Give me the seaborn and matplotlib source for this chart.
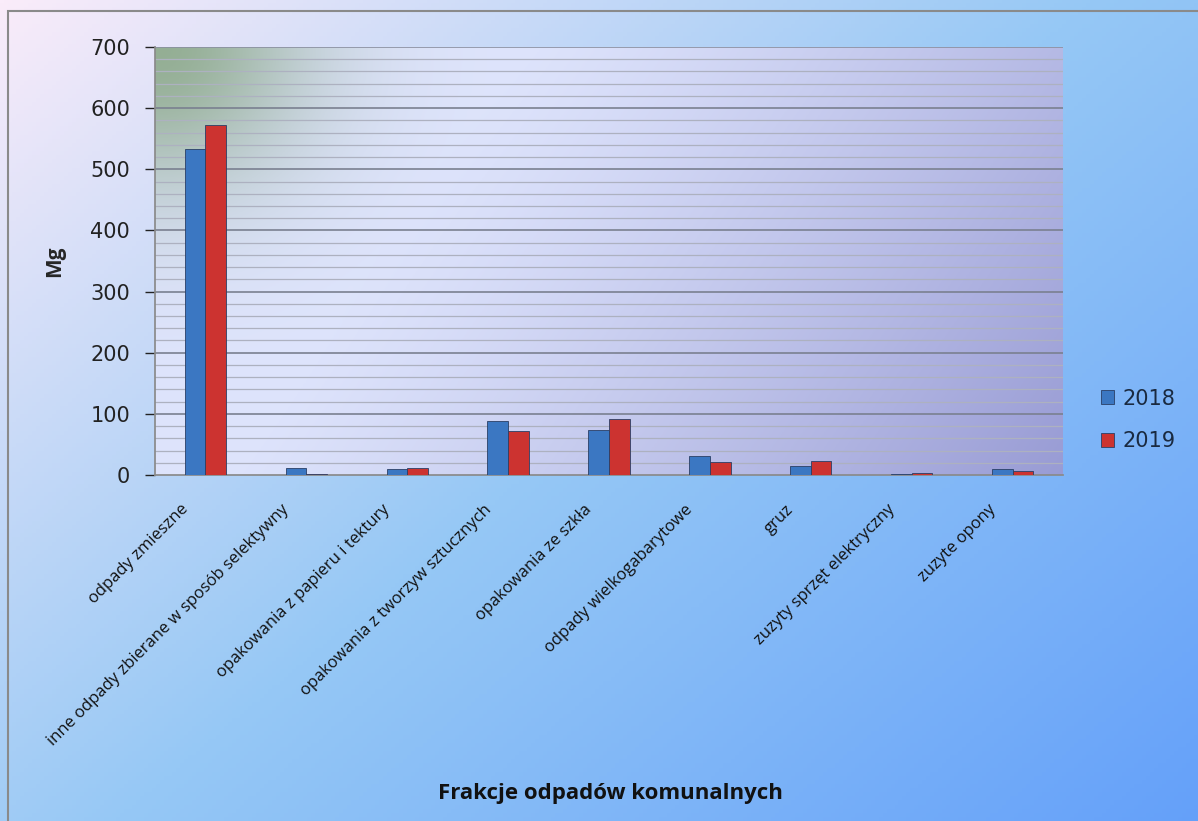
import numpy as np
import pandas as pd
import matplotlib
matplotlib.use('Agg')
import matplotlib.pyplot as plt
import matplotlib.transforms as mtransforms
import seaborn as sns
from matplotlib.patches import Rectangle

# dane (Mg)
kategorie = ['odpady zmieszne',
             'inne odpady zbierane w sposób selektywny',
             'opakowania z papieru i tektury',
             'opakowania z tworzyw sztucznych',
             'opakowania ze szkła',
             'odpady wielkogabarytowe',
             'gruz',
             'zuzyty sprzęt elektryczny',
             'zuzyte opony']
lata = ['2018', '2019']
wartosci_2018 = [533, 11, 10, 89, 73, 31, 15, 1, 10]
wartosci_2019 = [572, 1, 11, 72, 91, 22, 23, 4, 6]
y_ticks = [0, 100, 200, 300, 400, 500, 600, 700]

df = pd.DataFrame({
    'kategoria': kategorie * 2,
    'rok': [lata[0]] * len(kategorie) + [lata[1]] * len(kategorie),
    'Mg': wartosci_2018 + wartosci_2019,
})

sns.set_theme(style='white')
plt.rcParams['font.family'] = ['Open Sans', 'DejaVu Sans']

fig = plt.figure(figsize=(11.98, 8.21), dpi=100)

# tło całego wykresu - gradient po przekątnej
bg = fig.add_axes([0, 0, 1, 1], zorder=-10)
h, w = 200, 300
yy, xx = np.mgrid[0:h, 0:w]
t = (xx / w * 0.55 + yy / h * 0.45)
c0 = np.array([250, 236, 250]) / 255
c1 = np.array([150, 200, 245]) / 255
c2 = np.array([100, 160, 250]) / 255
t3 = t[..., None]
img = np.where(t3 < 0.5, c0 + (c1 - c0) * (t3 / 0.5), c1 + (c2 - c1) * ((t3 - 0.5) / 0.5))
bg.imshow(img, extent=[0, 1, 0, 1], aspect='auto', origin='upper')
bg.add_patch(Rectangle((0.007, -0.01), 1.0, 0.996, fill=False, edgecolor='#8a8a8a', lw=1.5,
                       transform=bg.transAxes))
bg.set_axis_off()

ax = fig.add_axes([155 / 1198, 1 - 475 / 821, 908 / 1198, 428 / 821])

# tło obszaru wykresu
ph, pw = 150, 300
py, px = np.mgrid[0:ph, 0:pw]
u = (px / pw * 0.75 + py / ph * 0.25)[..., None]
a0 = np.array([222, 228, 252]) / 255
a1 = np.array([152, 155, 212]) / 255
pimg = a0 + (a1 - a0) * np.clip((u - 0.3) / 0.7, 0, 1) ** 1.2
d = np.sqrt((px / pw / 0.2) ** 2 + (py / ph / 0.4) ** 2)[..., None]
g = np.exp(-d ** 2 * 1.4) * 0.85
green = np.array([135, 165, 130]) / 255
pimg = pimg * (1 - g) + green * g
ax.imshow(pimg, extent=[-0.5, 8.5, 0, 700], aspect='auto', origin='upper', zorder=0)

# linie siatki
for v in range(20, 700, 20):
    if v % 100 == 0:
        ax.axhline(v, color='#7a8090', lw=1.2, zorder=1)
    else:
        ax.axhline(v, color='#adb1c0', lw=0.9, zorder=1)
ax.axhline(700, color='#8a8fa0', lw=1.2, zorder=1)

sns.barplot(data=df, x='kategoria', y='Mg', hue='rok', order=kategorie, hue_order=lata,
            palette=['#3b77c2', '#cc3330'], width=0.41, saturation=1,
            edgecolor='#2a3f66', linewidth=0.6, ax=ax, zorder=3)

ax.set_xlim(-0.5, 8.5)
ax.set_ylim(0, 700)
ax.set_yticks(y_ticks)
ax.set_yticklabels([str(v) for v in y_ticks], family='DejaVu Sans')
ax.tick_params(axis='y', labelsize=15, colors='#222222', length=7, width=1, direction='out',
               left=True, pad=11)
ax.tick_params(axis='x', length=0, pad=5)
ax.set_xticks(range(len(kategorie)))
ax.set_xticklabels(kategorie, rotation=45, ha='right', rotation_mode='anchor', fontsize=12, color='#111111')
przesun = mtransforms.ScaledTranslation(-18 / 72, -14 / 72, fig.dpi_scale_trans)
for lbl in ax.get_xticklabels():
    lbl.set_transform(lbl.get_transform() + przesun)
for s in ['top', 'right']:
    ax.spines[s].set_visible(False)
ax.spines['left'].set_color('#8a8a8a')
ax.spines['bottom'].set_color('#8a8a8a')
ax.set_xlabel('')
ax.set_ylabel('Mg', fontsize=15, fontweight='bold', labelpad=18)

fig.text(610 / 1198, 1 - 793 / 821, 'Frakcje odpadów komunalnych', ha='center', va='center',
         fontsize=16, fontweight='bold', color='#111111')

ax.legend(loc='center left', bbox_to_anchor=(1082 / 1198, 1 - 420 / 821),
          bbox_transform=fig.transFigure, frameon=False,
          prop={'family': 'DejaVu Sans', 'size': 15},
          handlelength=0.65, handleheight=0.65, handletextpad=0.4, labelspacing=1.1,
          labelcolor='#1a2a40')

fig.savefig('out.png', dpi=100)
